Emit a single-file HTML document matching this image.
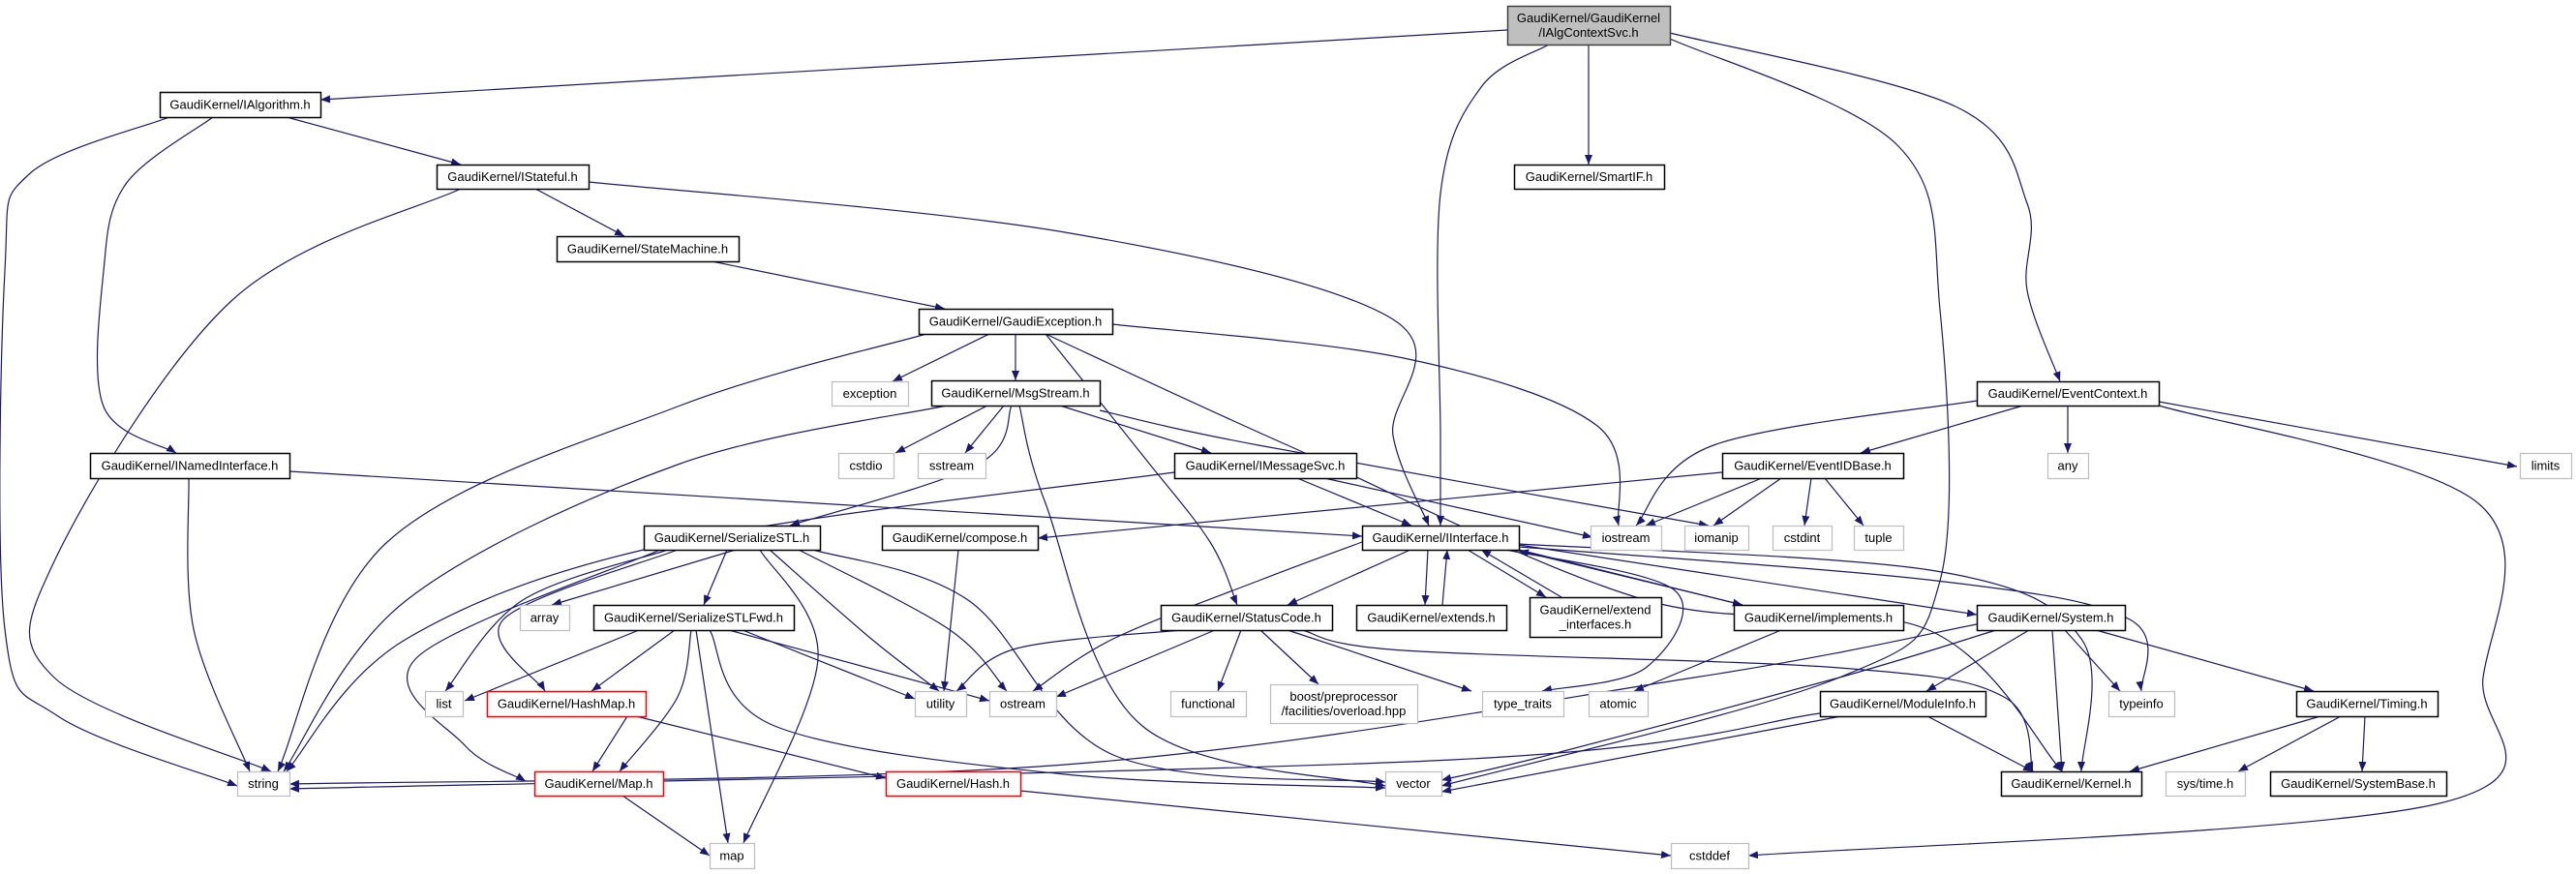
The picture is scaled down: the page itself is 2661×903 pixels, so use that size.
<!DOCTYPE html>
<html><head><meta charset="utf-8"><style>
html,body{margin:0;padding:0;background:#fff;}
svg{display:block;}
text{font-family:"Liberation Sans",sans-serif;font-size:13px;}
</style></head><body>
<svg id="s" xmlns="http://www.w3.org/2000/svg" width="2661" height="903" viewBox="0 0 2661 903">
<defs><marker id="ah" viewBox="0 0 10 8" refX="10" refY="4" markerWidth="10" markerHeight="8" markerUnits="userSpaceOnUse" orient="auto"><path d="M0,0 L10,4 L0,8 z" fill="#191970"/></marker></defs>
<g id="edges" fill="none" stroke="#191970" stroke-width="1.2"></g>
<g id="nodes"></g>
</svg>
<script>
var N={
A:[1557,6,1725,46,"GaudiKernel/GaudiKernel|/IAlgContextSvc.h","g"],
IAlg:[165,95,331,121,"GaudiKernel/IAlgorithm.h"],
IStateful:[451,170,608,195,"GaudiKernel/IStateful.h"],
SmartIF:[1564,170,1719,195,"GaudiKernel/SmartIF.h"],
SM:[575,244,763,270,"GaudiKernel/StateMachine.h"],
GE:[949,319,1149,345,"GaudiKernel/GaudiException.h"],
exception:[859,394,938,419,"exception","x"],
Msg:[962,393,1136,419,"GaudiKernel/MsgStream.h"],
EC:[2042,394,2230,419,"GaudiKernel/EventContext.h"],
INamed:[93,468,299,494,"GaudiKernel/INamedInterface.h"],
cstdio:[866,468,923,494,"cstdio","x"],
sstream:[948,468,1018,494,"sstream","x"],
IMsg:[1213,468,1401,494,"GaudiKernel/IMessageSvc.h"],
EID:[1779,468,1966,494,"GaudiKernel/EventIDBase.h"],
any:[2115,468,2157,494,"any","x"],
limits:[2603,468,2656,494,"limits","x"],
SSTL:[665,543,847,568,"GaudiKernel/SerializeSTL.h"],
compose:[911,543,1072,568,"GaudiKernel/compose.h"],
II:[1407,543,1569,568,"GaudiKernel/IInterface.h"],
iostream:[1643,543,1716,568,"iostream","x"],
iomanip:[1740,543,1806,568,"iomanip","x"],
cstdint:[1831,543,1892,568,"cstdint","x"],
tuple:[1915,543,1966,568,"tuple","x"],
array:[537,625,588,651,"array","x"],
SFwd:[613,625,820,651,"GaudiKernel/SerializeSTLFwd.h"],
SC:[1199,625,1376,651,"GaudiKernel/StatusCode.h"],
ext:[1401,625,1556,651,"GaudiKernel/extends.h"],
exti:[1580,617,1716,658,"GaudiKernel/extend|_interfaces.h"],
impl:[1791,625,1966,651,"GaudiKernel/implements.h"],
Sys:[2042,625,2195,651,"GaudiKernel/System.h"],
list:[439,714,478,740,"list","x"],
HM:[503,714,667,740,"GaudiKernel/HashMap.h","r"],
utility:[945,714,998,740,"utility","x"],
ostream:[1022,714,1091,740,"ostream","x"],
functional:[1209,714,1287,740,"functional","x"],
boost:[1312,707,1464,747,"boost/preprocessor|/facilities/overload.hpp","x"],
tt:[1531,714,1615,740,"type_traits","x"],
atomic:[1641,714,1702,740,"atomic","x"],
MI:[1880,714,2051,740,"GaudiKernel/ModuleInfo.h"],
typeinfo:[2178,714,2246,740,"typeinfo","x"],
Timing:[2372,714,2518,740,"GaudiKernel/Timing.h"],
string:[245,797,299,822,"string","x"],
Map:[552,797,685,822,"GaudiKernel/Map.h","r"],
Hash:[915,797,1054,822,"GaudiKernel/Hash.h","r"],
vector:[1431,797,1489,822,"vector","x"],
Kernel:[2067,797,2212,822,"GaudiKernel/Kernel.h"],
systime:[2237,797,2319,822,"sys/time.h","x"],
SB:[2345,797,2527,822,"GaudiKernel/SystemBase.h"],
map:[733,871,779,897,"map","x"],
cstddef:[1726,871,1806,897,"cstddef","x"]
};
var NS="http://www.w3.org/2000/svg";
var eg=document.getElementById("edges"),ng=document.getElementById("nodes");
function el(t,a,p){var e=document.createElementNS(NS,t);for(var k in a)e.setAttribute(k,a[k]);p.appendChild(e);return e;}
for(var k in N){var n=N[k],st=n[5],fill="#fff",str="#000";
 if(st=="g"){fill="#bfbfbf";str="#404040";} if(st=="x"){str="#c0c0c0";} if(st=="r"){str="#ff0000";}
 el("rect",{x:n[0]+.5,y:n[1]+.5,width:n[2]-n[0],height:n[3]-n[1],fill:fill,stroke:str,"stroke-width":(st=="x"?1.3:1.5)},ng);
 var ls=n[4].split("|"),cx=(n[0]+n[2])/2,cy=(n[1]+n[3])/2;
 for(var i=0;i<ls.length;i++){var t=el("text",{x:cx,y:cy+4.5+(i-(ls.length-1)/2)*15,"text-anchor":"middle",fill:"#000"},ng);t.textContent=ls[i];}
}
function c(n){n=N[n];return[(n[0]+n[2])/2,(n[1]+n[3])/2];}
function cl(v,a,b){return Math.max(a,Math.min(b,v));}
function path(pts){var d="M"+pts[0][0]+","+pts[0][1];
 if(pts.length==2){var p=pts[0],q=pts[1],dy=(q[1]-p[1])*0.4;d+=" C"+p[0]+","+(p[1]+dy)+" "+q[0]+","+(q[1]-dy)+" "+q[0]+","+q[1];return d;}
 for(var i=0;i<pts.length-1;i++){var p0=pts[i-1]||pts[i],p1=pts[i],p2=pts[i+1],p3=pts[i+2]||p2;
  var c1=[p1[0]+(p2[0]-p0[0])/6,p1[1]+(p2[1]-p0[1])/6],c2=[p2[0]-(p3[0]-p1[0])/6,p2[1]-(p3[1]-p1[1])/6];
  d+=" C"+c1[0]+","+c1[1]+" "+c2[0]+","+c2[1]+" "+p2[0]+","+p2[1];}
 return d;}
// E(from,to,via,startPt,endPt)
function E(f,t,via,sp,ep){var a=N[f],b=N[t],fc=c(f),tc=c(t);
 var s,e;
 if(b[1]>a[3]-2){ s=sp||[fc[0]+cl((tc[0]-fc[0])*0.3,-(a[2]-a[0])/2+6,(a[2]-a[0])/2-6),a[3]];
   e=ep||[tc[0]+cl((fc[0]-tc[0])*0.15,-(b[2]-b[0])/2+4,(b[2]-b[0])/2-4),b[1]]; }
 else { s=sp||[fc[0]+cl((tc[0]-fc[0])*0.3,-(a[2]-a[0])/2+6,(a[2]-a[0])/2-6),a[1]];
   e=ep||[tc[0]+cl((fc[0]-tc[0])*0.15,-(b[2]-b[0])/2+4,(b[2]-b[0])/2-4),b[3]]; }
 var pts=[s].concat(via||[]).concat([e]);
 var d=(via&&via.length)?path(pts):(sp||ep?"M"+s[0]+","+s[1]+" L"+e[0]+","+e[1]:path(pts));
 el("path",{d:d,"marker-end":"url(#ah)"},eg);}
function L(s,e){el("path",{d:"M"+s[0]+","+s[1]+" L"+e[0]+","+e[1],"marker-end":"url(#ah)"},eg);}
// top
L([1557,31],[331,103]);
E("A","II",[[1530,90],[1488,200],[1488,450]],[1600,46],[1488,543]);
L([1641,46],[1641,170]);
E("A","vector",[[1960,150],[2004,320],[2004,600],[1900,700]],[1725,40],[1489,812]);
E("A","EC",[[2020,110],[2094,210],[2094,300]],[1725,34],[2128,394]);
E("IAlg","string",[[30,180],[5,280],[5,650],[60,740]],[175,121],[245,812]);
E("IAlg","INamed",[[130,190],[107,280],[107,420]],[220,121],[182,468]);
L([296,121],[476,170]);
E("IStateful","string",[[240,310],[56,580],[56,700]],[476,195],[280,797]);
L([553,195],[645,244]);
E("IStateful","II",[[1100,240],[1439,330],[1439,450]],[608,188],[1476,543]);
L([735,270],[976,319]);
L([1022,345],[922,394]);
L([1049,345],[1049,393]);
E("GE","string",[[700,420],[400,560]],[957,345],[287,797]);
E("GE","SC",[[1180,470],[1250,560]],[1080,345],[1278,625]);
E("GE","iostream",[[1450,370],[1650,440]],[1149,335],[1672,543]);
E("GE","Kernel",[[1330,460],[1700,620],[1990,650]],[1080,345],[2130,797]);
// MsgStream
L([1020,419],[925,468]);
L([1037,419],[997,468]);
E("Msg","SSTL",[[1010,480]],[1045,419],[816,543]);
L([1095,419],[1251,468]);
E("Msg","vector",[[1080,520],[1180,750]],[1053,419],[1431,812]);
E("Msg","iomanip",[[1300,460]],[1136,424],[1765,543]);
E("Msg","string",[[700,480],[420,620]],[978,419],[293,797]);
// INamed
E("INamed","string",[[200,650]],[195,494],[258,797]);
L([299,487],[1407,554]);
E("IMsg","string",[[700,560],[420,660]],[1213,488],[296,797]);
L([1340,494],[1458,543]);
L([1368,494],[1645,555]);
// EventContext
E("EC","iostream",[[1770,460]],[2042,414],[1690,543]);
L([2090,419],[1922,468]);
L([2136,419],[2136,468]);
L([2230,415],[2600,482]);
E("EC","cstddef",[[2560,520],[2565,700],[2520,830]],[2230,419],[1806,884]);
// EventIDBase
L([1779,488],[1072,556]);
L([1820,494],[1700,543]);
L([1840,494],[1770,543]);
L([1871,494],[1864,543]);
L([1885,494],[1925,543]);
// SerializeSTL
L([760,568],[570,625]);
L([751,568],[727,625]);
E("SSTL","list",[[540,620]],[690,568],[460,714]);
E("SSTL","HM",[[520,640]],[700,568],[563,714]);
E("SSTL","Map",[[430,680],[480,770]],[682,568],[543,807]);
E("SSTL","map",[[845,680]],[785,568],[768,871]);
E("SSTL","utility",[[900,660]],[795,568],[970,714]);
E("SSTL","ostream",[[980,650]],[825,568],[1040,714]);
E("SSTL","vector",[[1000,620],[1150,780]],[840,568],[1431,808]);
// SFwd
L([660,651],[480,724]);
L([697,651],[611,714]);
E("SFwd","Map",[[700,720]],[714,651],[640,797]);
L([719,651],[752,871]);
L([767,651],[945,722]);
L([753,651],[1022,724]);
E("SFwd","vector",[[800,750],[1100,800]],[733,651],[1431,814]);
L([648,740],[612,797]);
L([657,740],[915,804]);
L([643,822],[733,884]);
L([1054,817],[1726,884]);
L([990,568],[975,714]);
// IInterface
L([1457,568],[1330,625]);
L([1475,568],[1472,625]);
L([1490,625],[1495,568]);
L([1516,568],[1597,617]);
L([1613,617],[1530,568]);
E("II","ostream",[[1300,600],[1150,660]],[1407,560],[1067,714]);
E("II","tt",[[1730,610],[1700,690]],[1556,568],[1593,714]);
E("II","typeinfo",[[2000,600],[2200,640]],[1569,565],[2212,714]);
E("II","Kernel",[[2000,590],[2150,660]],[1569,562],[2150,797]);
L([1569,563],[2042,635]);
L([1569,568],[1800,625]);
L([1800,625],[1569,569]);
L([1840,651],[1688,714]);
// StatusCode
E("SC","utility",[[1050,670]],[1220,651],[988,714]);
L([1255,651],[1091,720]);
L([1282,651],[1258,714]);
L([1302,651],[1362,707]);
L([1330,651],[1520,714]);
E("SC","Kernel",[[1450,672],[1900,690],[2070,720]],[1345,651],[2100,797]);
// System
L([2096,651],[1990,714]);
L([2133,651],[2190,714]);
L([2120,651],[2130,797]);
L([2165,651],[2390,714]);
E("Sys","string",[[1750,700],[1100,790]],[2042,645],[299,810]);
E("Sys","vector",[[1900,700],[1600,780]],[2062,651],[1489,806]);
// ModuleInfo
E("MI","string",[[1500,785]],[1880,737],[299,815]);
L([1902,740],[1489,818]);
L([1991,740],[2100,797]);
// Timing
L([2397,740],[2200,797]);
L([2418,740],[2312,797]);
L([2443,740],[2440,797]);
</script>
</body></html>
